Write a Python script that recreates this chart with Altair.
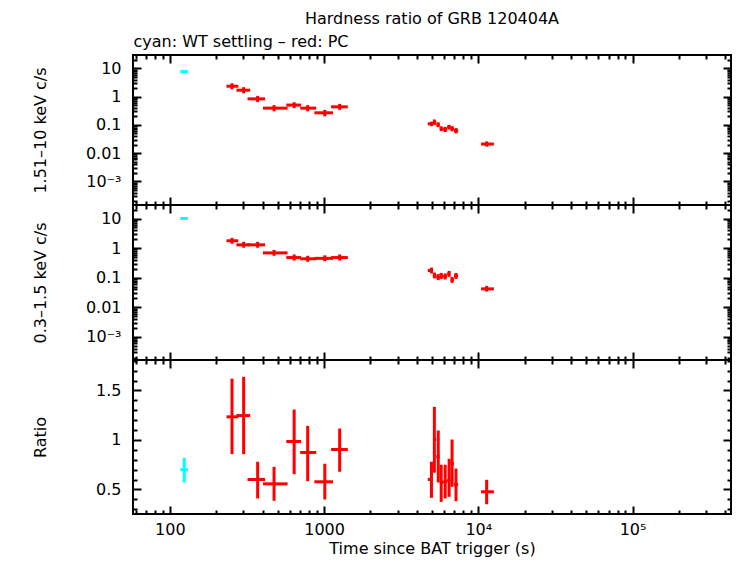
import altair as alt
import pandas as pd

FONT = "DejaVu Sans"
RED = "#ff0000"
CYAN = "#00ffff"

# ---------------- data ----------------
# WT settling (cyan)
wt_t = [124]
wt_tlo = [117]
wt_thi = [131]
wt_hard = [7.6]
wt_hard_lo = [6.9]
wt_hard_hi = [8.4]
wt_soft = [10.0]
wt_soft_lo = [9.3]
wt_soft_hi = [10.8]
wt_ratio = [0.70]
wt_ratio_lo = [0.57]
wt_ratio_hi = [0.82]

# PC (red)
pc_t = [253, 301, 371, 474, 640, 783, 1011, 1262,
        4970, 5190, 5500, 5750, 6100, 6470, 6760, 7170, 11330]
pc_tlo = [233, 270, 319, 402, 569, 700, 865, 1111,
          4700, 5080, 5340, 5620, 5920, 6280, 6610, 6960, 10420]
pc_thi = [278, 332, 414, 580, 710, 890, 1143, 1426,
          5080, 5340, 5620, 5920, 6280, 6610, 6960, 7400, 12620]
pc_hard = [2.32, 1.68, 0.83, 0.39, 0.50, 0.39, 0.267, 0.434,
           0.109, 0.125, 0.101, 0.073, 0.069, 0.083, 0.073, 0.062, 0.021]
pc_hard_lo = [1.80, 1.30, 0.64, 0.30, 0.39, 0.30, 0.20, 0.34,
              0.090, 0.100, 0.083, 0.060, 0.056, 0.068, 0.059, 0.050, 0.017]
pc_hard_hi = [2.95, 2.15, 1.06, 0.50, 0.63, 0.50, 0.34, 0.55,
              0.130, 0.155, 0.123, 0.089, 0.085, 0.100, 0.090, 0.077, 0.026]
pc_soft = [1.77, 1.29, 1.29, 0.69, 0.48, 0.436, 0.45, 0.48,
           0.175, 0.12, 0.105, 0.115, 0.11, 0.135, 0.085, 0.115, 0.042]
pc_soft_lo = [1.40, 1.03, 1.03, 0.55, 0.38, 0.345, 0.36, 0.38,
              0.140, 0.095, 0.083, 0.091, 0.087, 0.107, 0.067, 0.091, 0.034]
pc_soft_hi = [2.23, 1.63, 1.63, 0.87, 0.61, 0.55, 0.57, 0.61,
              0.220, 0.150, 0.132, 0.145, 0.139, 0.170, 0.107, 0.145, 0.053]
pc_ratio = [1.234, 1.247, 0.601, 0.557, 0.985, 0.874, 0.578, 0.904,
            0.601, 1.005, 0.83, 0.57, 0.578, 0.594, 0.76, 0.55, 0.477]
pc_ratio_lo = [0.857, 0.857, 0.409, 0.386, 0.655, 0.584, 0.399, 0.679,
               0.416, 0.67, 0.571, 0.375, 0.41, 0.426, 0.527, 0.382, 0.351]
pc_ratio_hi = [1.62, 1.638, 0.78, 0.729, 1.308, 1.143, 0.76, 1.116,
               0.78, 1.335, 1.096, 0.75, 0.75, 0.81, 1.005, 0.712, 0.598]

# tick positions / labels
X_MAJOR = [100, 1000, 10000, 100000]
X_MINOR = [60, 70, 80, 90] + [m * d for d in (100, 1000, 10000) for m in range(2, 10)] + [200000, 300000, 400000]
Y_LOG_MAJOR = [0.001, 0.01, 0.1, 1, 10]
Y_LOG_MINOR = [m * d for d in (0.0001, 0.001, 0.01, 0.1, 1) for m in range(2, 10)] + [20]
Y_RAT_MAJOR = [0.5, 1, 1.5]
Y_RAT_MINOR = [0.3, 0.4, 0.6, 0.7, 0.8, 0.9, 1.1, 1.2, 1.3, 1.4, 1.6, 1.7, 1.8]

XDOM = [57.7, 435000]
PLOT_W = 598

df = pd.DataFrame({
    "series": ["WT"] * len(wt_t) + ["PC"] * len(pc_t),
    "t": wt_t + pc_t,
    "tlo": wt_tlo + pc_tlo,
    "thi": wt_thi + pc_thi,
    "hard": wt_hard + pc_hard,
    "hard_lo": wt_hard_lo + pc_hard_lo,
    "hard_hi": wt_hard_hi + pc_hard_hi,
    "soft": wt_soft + pc_soft,
    "soft_lo": wt_soft_lo + pc_soft_lo,
    "soft_hi": wt_soft_hi + pc_soft_hi,
    "ratio": wt_ratio + pc_ratio,
    "ratio_lo": wt_ratio_lo + pc_ratio_lo,
    "ratio_hi": wt_ratio_hi + pc_ratio_hi,
})

TXT = dict(labelFont=FONT, labelFontSize=16, labelColor="black",
           titleFont=FONT, titleFontSize=16, titleFontWeight="normal", titleColor="black")
TICKS = dict(domain=False, grid=False, tickColor="black", tickWidth=2,
             labelOverlap=False, labelFlush=False)


def major(orient, values, **kw):
    return alt.Axis(orient=orient, values=values, tickSize=8, offset=-8, **TICKS, **TXT, **kw)


def minor(orient, values):
    return alt.Axis(orient=orient, values=values, tickSize=4, offset=-4, labels=False,
                    title=None, **TICKS)


def panel(field, height, ydom, ytype, ymaj, ymin, yexpr, ytitle, xlabels, top_title=None, sub_title=None):
    xs = alt.Scale(type="log", domain=XDOM, nice=False)
    if ytype == "log":
        ys = alt.Scale(type="log", domain=ydom, nice=False)
    else:
        ys = alt.Scale(type="linear", domain=ydom, nice=False, zero=False)
    color = alt.Color("series:N", scale=alt.Scale(domain=["WT", "PC"], range=[CYAN, RED]), legend=None)
    base = alt.Chart(df)

    if xlabels:
        xb = major("bottom", X_MAJOR, labels=True, labelPadding=7,
                   labelExpr="datum.value == 10000 ? '10⁴' : datum.value == 100000 ? '10⁵' : format(datum.value, 'd')",
                   title="Time since BAT trigger (s)", titleY=47.5, titleBaseline="alphabetic")
    else:
        xb = major("bottom", X_MAJOR, labels=False, title=None)
    if sub_title:
        xt = major("top", X_MAJOR, labels=False, title=sub_title, titleX=0, titleY=-17,
                   titleAlign="left", titleAnchor="start", titleBaseline="alphabetic", titleAngle=0)
    else:
        xt = major("top", X_MAJOR, labels=False, title=None)

    yl = major("left", ymaj, labels=True, labelPadding=12, labelExpr=yexpr,
               title=ytitle, titleX=-101, titleBaseline="middle", titleAngle=270)
    yr = major("right", ymaj, labels=False, title=None)

    hbar = base.mark_rule(strokeWidth=3).encode(
        x=alt.X("tlo:Q", scale=xs, axis=xb),
        x2="thi:Q",
        y=alt.Y(f"{field}:Q", scale=ys, axis=yl),
        color=color,
    )
    vbar = base.mark_rule(strokeWidth=3).encode(
        x=alt.X("t:Q", scale=xs, axis=xt),
        y=alt.Y(f"{field}_lo:Q", scale=ys, axis=yr),
        y2=f"{field}_hi:Q",
        color=color,
    )
    m1 = base.mark_point(opacity=0).encode(
        x=alt.X("t:Q", scale=xs, axis=minor("bottom", X_MINOR)),
        y=alt.Y(f"{field}:Q", scale=ys, axis=minor("left", ymin)),
    )
    m2 = base.mark_point(opacity=0).encode(
        x=alt.X("t:Q", scale=xs, axis=minor("top", X_MINOR)),
        y=alt.Y(f"{field}:Q", scale=ys, axis=minor("right", ymin)),
    )
    props = dict(width=PLOT_W, height=height)
    if top_title:
        props["title"] = alt.TitleParams(text=top_title, anchor="middle", frame="group", offset=-7,
                                         baseline="alphabetic", font=FONT, fontSize=16,
                                         fontWeight="normal", color="black")
    return (alt.layer(hbar, vbar, m1, m2)
            .resolve_scale(x="shared", y="shared")
            .resolve_axis(x="independent", y="independent")
            .properties(**props))


LOG_EXPR = "datum.value < 0.005 ? '10⁻³' : format(datum.value, '~g')"

p1 = panel("hard", 150, [1.476e-4, 29.4], "log", Y_LOG_MAJOR, Y_LOG_MINOR, LOG_EXPR,
           "1.51–10 keV c/s", False, top_title="Hardness ratio of GRB 120404A",
           sub_title="cyan: WT settling – red: PC")
p2 = panel("soft", 155, [1.66e-4, 28.6], "log", Y_LOG_MAJOR, Y_LOG_MINOR, LOG_EXPR,
           "0.3–1.5 keV c/s", False)
p3 = panel("ratio", 154, [0.2525, 1.808], "linear", Y_RAT_MAJOR, Y_RAT_MINOR,
           "format(datum.value, '~g')", "Ratio", True)

chart = (alt.vconcat(p1, p2, p3, spacing=0, bounds="flush")
         .resolve_scale(x="independent", y="independent")
         .properties(padding={"left": 23, "top": 2, "right": 0, "bottom": 0}, background="white")
         .configure_view(stroke="black", strokeWidth=2, fill="white"))

chart.save("out.html", embed_options={"renderer": "svg", "actions": False})
